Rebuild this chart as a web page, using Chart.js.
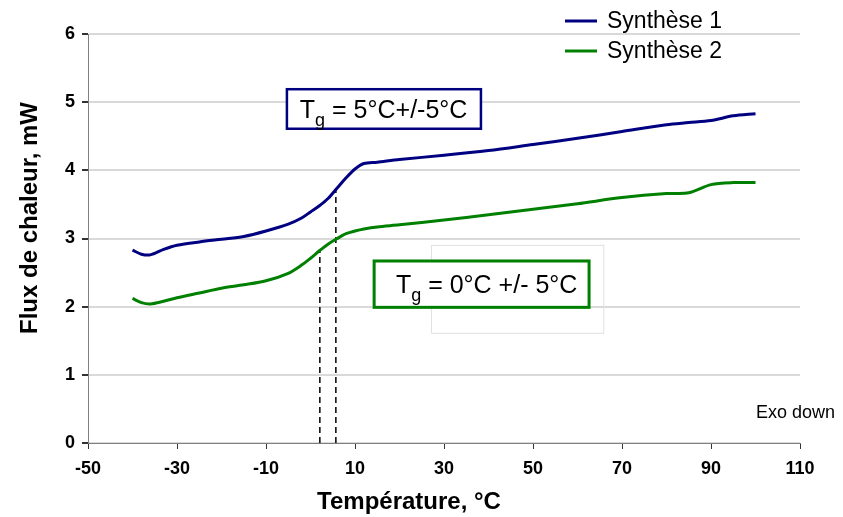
<!DOCTYPE html>
<html>
<head>
<meta charset="utf-8">
<script src="https://cdn.jsdelivr.net/npm/chart.js@4"></script>
<style>
  html, body { margin: 0; padding: 0; background: #fff; }
  #wrap { width: 843px; height: 517px; }
</style>
</head>
<body>
<div id="wrap"><canvas id="dsc"></canvas></div>
<script>
// temperatures (°C) and heat flow (mW)
const temps     = [-40, -38, -36, -33, -30, -25, -20, -15, -10, -5, -2, 0, 2, 4, 6, 8, 10, 12, 15, 20, 30, 40, 50, 60, 70, 80, 85, 90, 95, 100];
const synthese1 = [2.83, 2.77, 2.76, 2.84, 2.90, 2.95, 2.99, 3.03, 3.11, 3.21, 3.30, 3.39, 3.48, 3.59, 3.74, 3.89, 4.02, 4.10, 4.12, 4.16, 4.22, 4.29, 4.38, 4.47, 4.57, 4.67, 4.70, 4.73, 4.80, 4.83];
const synthese2 = [2.12, 2.06, 2.04, 2.08, 2.13, 2.20, 2.27, 2.32, 2.38, 2.49, 2.61, 2.71, 2.82, 2.92, 3.00, 3.07, 3.11, 3.14, 3.17, 3.20, 3.27, 3.35, 3.43, 3.51, 3.60, 3.66, 3.67, 3.79, 3.82, 3.82];
const seriesNames = ['Synthèse 1', 'Synthèse 2'];
const xTicks = [-50, -30, -10, 10, 30, 50, 70, 90, 110];
const yTicks = [0, 1, 2, 3, 4, 5, 6];
// Tg markers (dashed verticals): temperature and height where they meet the curve
const tgX = [2.1, 5.7];
const tgY = [2.82, 3.73];

const navy = '#000080';
const green = '#008000';
const FONT = '"Liberation Sans", Arial, sans-serif';

const pts = (xs, ys) => xs.map((x, i) => ({ x: x, y: ys[i] }));

const datasets = [
    { label: seriesNames[0], data: pts(temps, synthese1), borderColor: navy, borderWidth: 3, pointRadius: 0, tension: 0.3 },
    { label: seriesNames[1], data: pts(temps, synthese2), borderColor: green, borderWidth: 3, pointRadius: 0, tension: 0.3 }
];
tgX.forEach((x, i) => {
    datasets.push({ label: 'tg' + i, data: [{ x: x, y: 0 }, { x: x, y: tgY[i] }], borderColor: '#000', borderWidth: 1.5, borderDash: [6, 4], pointRadius: 0 });
});

// annotation boxes, in data units (tx = where the text starts)
const boxes = [
    { x0: -5.3, x1: 38.3, y0: 5.19, y1: 4.61, color: navy, width: 2.5, text: ' = 5°C+/-5°C', tx: -2.4 },
    { x0: 27.2, x1: 65.9, y0: 2.90, y1: 1.61, color: '#e0e0e0', width: 1 },
    { x0: 14.3, x1: 62.6, y0: 2.67, y1: 1.99, color: green, width: 3, text: ' = 0°C +/- 5°C', tx: 19.2 }
];

const decor = {
    id: 'decor',
    afterDatasetsDraw(chart) {
        const { ctx, scales: { x, y } } = chart;
        ctx.save();
        // boxes: grey one first, then the labelled ones
        [boxes[1], boxes[0], boxes[2]].forEach(b => {
            const l = x.getPixelForValue(b.x0), r = x.getPixelForValue(b.x1);
            const t = y.getPixelForValue(b.y0), bt = y.getPixelForValue(b.y1);
            if (b.text) { ctx.fillStyle = '#fff'; ctx.fillRect(l, t, r - l, bt - t); }
            ctx.strokeStyle = b.color; ctx.lineWidth = b.width;
            ctx.strokeRect(l, t, r - l, bt - t);
            if (b.text) {
                const base = (t + bt) / 2 + 9;
                let tx = x.getPixelForValue(b.tx);
                ctx.fillStyle = '#000';
                ctx.textBaseline = 'alphabetic';
                ctx.textAlign = 'left';
                ctx.font = '25px ' + FONT;
                ctx.fillText('T', tx, base);
                tx += ctx.measureText('T').width;
                ctx.font = '18px ' + FONT;
                ctx.fillText('g', tx, base + 8);
                tx += ctx.measureText('g').width;
                ctx.font = '25px ' + FONT;
                ctx.fillText(b.text, tx, base);
            }
        });
        // legend
        ctx.font = '23px ' + FONT;
        ctx.textBaseline = 'middle';
        ctx.textAlign = 'left';
        [navy, green].forEach((c, i) => {
            const ly = 21 + i * 30;
            ctx.strokeStyle = c; ctx.lineWidth = 3;
            ctx.beginPath(); ctx.moveTo(565, ly); ctx.lineTo(597, ly); ctx.stroke();
            ctx.fillStyle = '#000';
            ctx.fillText(seriesNames[i], 607, ly + 1);
        });
        // axis titles
        ctx.font = 'bold 24px ' + FONT;
        ctx.textAlign = 'center';
        ctx.textBaseline = 'alphabetic';
        ctx.fillText('Température, °C', 409, 509);
        ctx.save();
        ctx.translate(37, 218);
        ctx.rotate(-Math.PI / 2);
        ctx.fillText('Flux de chaleur, mW', 0, 0);
        ctx.restore();
        // note
        ctx.font = '18px ' + FONT;
        ctx.textAlign = 'left';
        ctx.fillText('Exo down', 756, 418);
        ctx.restore();
    }
};

new Chart(document.getElementById('dsc'), {
    type: 'line',
    data: { datasets: datasets },
    options: {
        responsive: true,
        maintainAspectRatio: false,
        animation: false,
        layout: { padding: { top: 34, right: 43, left: 0, bottom: 0 } },
        plugins: { legend: { display: false }, tooltip: { enabled: false } },
        scales: {
            x: {
                type: 'linear', min: -50, max: 110,
                afterBuildTicks: s => { s.ticks = xTicks.map(v => ({ value: v })); },
                afterFit: s => { s.height = 74; },
                grid: { drawOnChartArea: false, drawTicks: true, tickLength: 6, tickColor: '#333' },
                border: { color: '#808080', width: 1 },
                ticks: { color: '#000', font: { family: FONT, size: 18, weight: 'bold' }, padding: 9, maxRotation: 0 }
            },
            y: {
                min: 0, max: 6,
                afterBuildTicks: s => { s.ticks = yTicks.map(v => ({ value: v })); },
                afterFit: s => { s.width = 88; },
                grid: { color: '#d9d9d9', lineWidth: 2, drawTicks: true, tickLength: 6, tickColor: '#333' },
                border: { color: '#808080', width: 1 },
                ticks: { color: '#000', font: { family: FONT, size: 18, weight: 'bold' }, padding: 7 }
            }
        }
    },
    plugins: [decor]
});
</script>
</body>
</html>
